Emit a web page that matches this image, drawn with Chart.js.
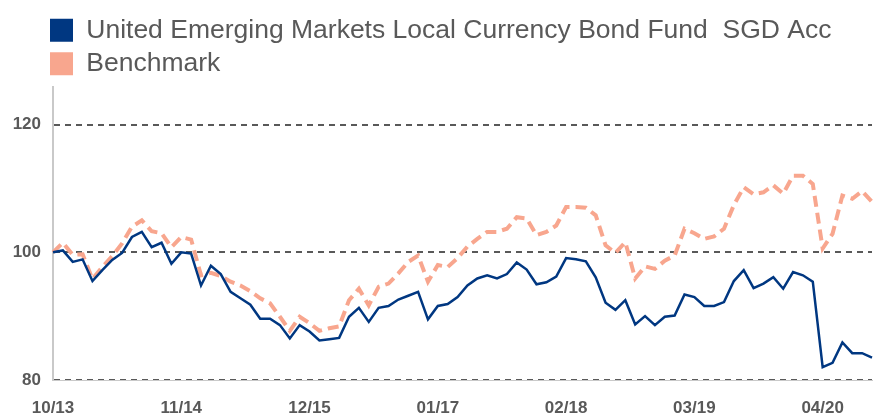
<!DOCTYPE html>
<html>
<head>
<meta charset="utf-8">
<script src="https://cdn.jsdelivr.net/npm/chart.js@4/dist/chart.umd.min.js"></script>
<style>
  body { margin: 0; background: #fff; }
  canvas { display: block; }
</style>
</head>
<body>
<canvas id="perfChart" width="873" height="416"></canvas>
<script>
// monthly points, 10/13 .. 09/20
const months = [
  '10/13', '11/13', '12/13',
  '01/14', '02/14', '03/14', '04/14', '05/14', '06/14', '07/14', '08/14', '09/14', '10/14', '11/14', '12/14',
  '01/15', '02/15', '03/15', '04/15', '05/15', '06/15', '07/15', '08/15', '09/15', '10/15', '11/15', '12/15',
  '01/16', '02/16', '03/16', '04/16', '05/16', '06/16', '07/16', '08/16', '09/16', '10/16', '11/16', '12/16',
  '01/17', '02/17', '03/17', '04/17', '05/17', '06/17', '07/17', '08/17', '09/17', '10/17', '11/17', '12/17',
  '01/18', '02/18', '03/18', '04/18', '05/18', '06/18', '07/18', '08/18', '09/18', '10/18', '11/18', '12/18',
  '01/19', '02/19', '03/19', '04/19', '05/19', '06/19', '07/19', '08/19', '09/19', '10/19', '11/19', '12/19',
  '01/20', '02/20', '03/20', '04/20', '05/20', '06/20', '07/20', '08/20', '09/20'
];
const tickLabels = ['10/13', '11/14', '12/15', '01/17', '02/18', '03/19', '04/20'];
const yTicks = [80, 100, 120];

const fundName = 'United Emerging Markets Local Currency Bond Fund  SGD Acc';
const fundValues = [
  100.0, 100.3, 98.5, 98.9, 95.5, 97.2, 98.8, 99.9, 102.4, 103.2, 100.8, 101.5, 98.2, 100.0, 99.8,
  94.8, 97.9, 96.6, 93.8, 92.8, 91.8, 89.6, 89.6, 88.6, 86.5, 88.6, 87.6,
  86.2, 86.4, 86.6, 89.9, 91.3, 89.1, 91.3, 91.6, 92.6, 93.2, 93.8, 89.5,
  91.6, 91.9, 93.0, 94.8, 95.9, 96.4, 95.9, 96.6, 98.4, 97.3, 95.0, 95.3,
  96.2, 99.1, 98.9, 98.6, 96.1, 92.1, 91.0, 92.5, 88.7, 90.0, 88.6, 89.9,
  90.1, 93.4, 93.0, 91.6, 91.6, 92.2, 95.5, 97.2, 94.4, 95.1, 96.1, 94.3,
  96.9, 96.4, 95.4, 82.0, 82.7, 85.9, 84.2, 84.2, 83.5
];
const benchName = 'Benchmark';
const benchValues = [
  100.0, 101.5, 99.6, 99.7, 95.8, 97.7, 99.4, 101.4, 104.0, 105.0, 103.3, 103.0, 100.8, 102.4, 102.0,
  96.4, 96.8, 96.3, 95.4, 94.8, 93.9, 92.8, 92.0, 89.9, 87.7, 89.9, 88.9,
  87.7, 88.1, 88.4, 92.5, 94.3, 91.7, 94.6, 95.1, 96.7, 98.5, 99.5, 95.4,
  98.0, 97.7, 99.1, 100.9, 102.1, 103.2, 103.2, 103.7, 105.5, 105.3, 102.7, 103.2,
  104.2, 107.1, 107.1, 107.0, 105.8, 101.1, 99.9, 101.6, 95.9, 97.8, 97.4, 98.7,
  99.5, 103.7, 103.0, 102.1, 102.5, 103.7, 107.4, 110.2, 109.1, 109.4, 110.5, 109.2,
  112.0, 112.0, 110.7, 100.6, 102.9, 108.9, 108.4, 109.6, 107.9
];

const textGrey = '#595959';
const tickFont = { family: 'Liberation Sans, Arial, sans-serif', size: 17, weight: 'bold' };

// legend sits in line with the plot's left edge
const legendShift = {
  id: 'legendShift',
  afterLayout(chart) {
    chart.legend.left = 43;
  }
};

const ctx = document.getElementById('perfChart').getContext('2d');
const chart = new Chart(ctx, {
  type: 'line',
  data: {
    labels: months,
    datasets: [
      {
        label: fundName,
        data: fundValues,
        borderColor: '#003781',
        backgroundColor: '#003781',
        borderWidth: 2.5,
        pointRadius: 0,
        tension: 0,
        fill: false
      },
      {
        label: benchName,
        data: benchValues,
        borderColor: '#f8a68e',
        backgroundColor: '#f8a68e',
        borderWidth: 4,
        borderDash: [11, 6],
        pointRadius: 0,
        tension: 0,
        fill: false
      }
    ]
  },
  options: {
    responsive: false,
    animation: false,
    layout: { padding: { left: 0, right: 1, top: 10, bottom: 0 } },
    plugins: {
      tooltip: { enabled: false },
      legend: {
        position: 'top',
        align: 'start',
        labels: {
          boxWidth: 23,
          boxHeight: 23,
          padding: 7,
          color: textGrey,
          font: { family: 'Liberation Sans, Arial, sans-serif', size: 26.5 },
          generateLabels(chart) {
            const items = Chart.defaults.plugins.legend.labels.generateLabels(chart);
            items.forEach(it => {
              it.lineDash = [];
              it.lineWidth = 0;
              it.strokeStyle = it.fillStyle;
            });
            return items;
          }
        }
      }
    },
    scales: {
      x: {
        afterFit: function (scale) {
          scale.height = 36;
          scale.paddingLeft = 0;
          scale.paddingRight = 0;
        },
        grid: { display: false, drawTicks: false },
        border: { display: true, color: '#c9c9c9', width: 1 },
        ticks: {
          autoSkip: false,
          maxRotation: 0,
          padding: 18,
          color: textGrey,
          font: tickFont,
          callback: function (value, index) {
            const m = months[index];
            return tickLabels.includes(m) ? m : '';
          }
        }
      },
      y: {
        min: 80,
        max: 125.9,
        afterBuildTicks: function (scale) {
          scale.ticks = yTicks.map(v => ({ value: v }));
        },
        afterFit: function (scale) {
          scale.width = 53;
        },
        grid: { color: textGrey, lineWidth: 2, drawTicks: false },
        border: { display: true, color: '#c9c9c9', width: 2, dash: [6, 5] },
        ticks: {
          padding: 12,
          color: textGrey,
          font: tickFont
        }
      }
    }
  },
  plugins: [legendShift]
});
</script>
</body>
</html>
